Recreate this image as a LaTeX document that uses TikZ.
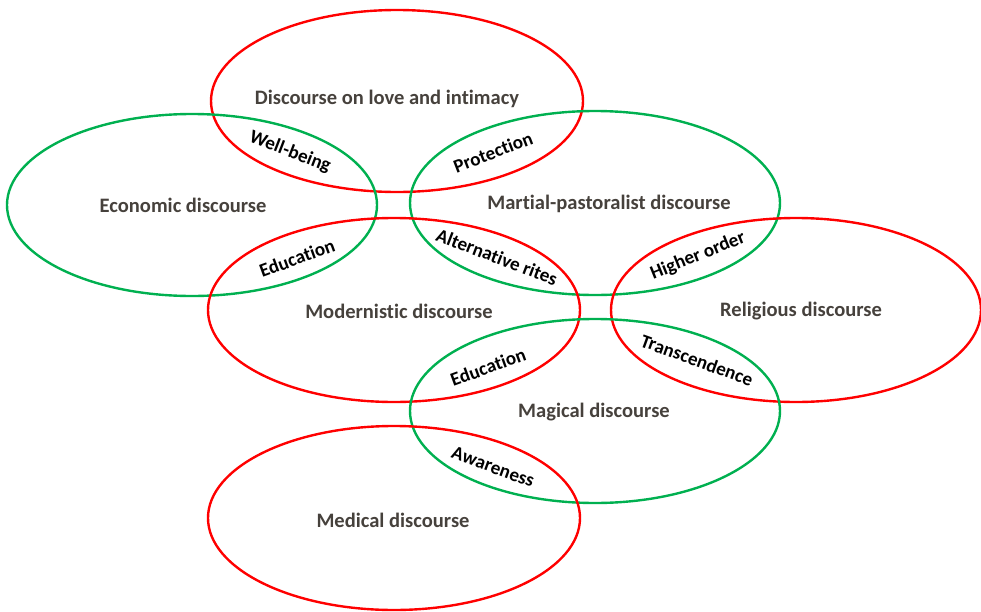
\documentclass[tikz,border=0pt]{standalone}
\usepackage{fontspec}
\setmainfont{Carlito}[RawFeature=-liga]
\usepackage{tikz}
\definecolor{ringred}{HTML}{FF0000}
\definecolor{ringgreen}{HTML}{00B050}
\definecolor{muted}{HTML}{46413C}
\tikzset{
  redring/.style={draw=ringred, line width=1.7pt},
  greenring/.style={draw=ringgreen, line width=1.7pt},
  lab/.style={text=muted, font=\fontsize{14.6}{17}\selectfont\bfseries},
  tie/.style={text=black, font=\fontsize{13.6}{16}\selectfont\bfseries, inner sep=0pt},
}

\begin{document}
\begin{tikzpicture}[x=0.025cm,y=-0.025cm]
  \useasboundingbox (0,0) rectangle (981,612);
  % discourse rings
  \draw[redring] (397,101) ellipse (186 and 91);
  \draw[greenring] (192,205) ellipse (185 and 91);
  \draw[greenring] (595,203) ellipse (185 and 92);
  \draw[redring] (394,310) ellipse (186 and 92);
  \draw[redring] (796,310) ellipse (185 and 92);
  \draw[greenring] (595,411) ellipse (185 and 92);
  \draw[redring] (394,518) ellipse (186 and 92);
  % discourse names
  \node[lab] (love) at (387,99) {Discourse on love and intimacy};
  \node[lab] (econ) at (183,205) {Economic discourse};
  \node[lab] (martial) at (609,204) {Martial-pastoralist discourse};
  \node[lab] (modern) at (399,311) {Modernistic discourse};
  \node[lab] (relig) at (801,311) {Religious discourse};
  \node[lab] (magic) at (594,412) {Magical discourse};
  \node[lab] (medic) at (393,520) {Medical discourse};
  % overlaps
  \node[tie,rotate=-21] (wellbeing) at (290,152) {Well-being};
  \node[tie,rotate=21] (protect) at (493,152) {Protection};
  \node[tie,rotate=20] (eduA) at (297,258) {Education};
  \node[tie,rotate=-21] (altrites) at (497,257) {Alternative rites};
  \node[tie,rotate=22] (higher) at (698,256) {Higher order};
  \node[tie,rotate=-20] (transc) at (697,360) {Transcendence};
  \node[tie,rotate=20] (eduB) at (488,367) {Education};
  \node[tie,rotate=-20] (aware) at (493,467) {Awareness};
\end{tikzpicture}
\end{document}
